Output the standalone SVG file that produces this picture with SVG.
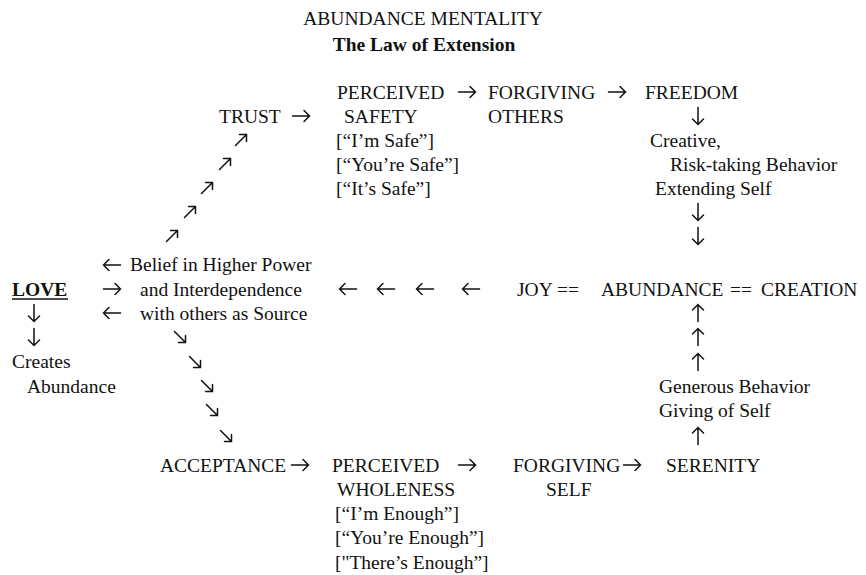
<svg xmlns="http://www.w3.org/2000/svg" width="866" height="575" viewBox="0 0 866 575">
<style>
text{font-family:"Liberation Serif","Times New Roman",serif;font-size:19.5px;fill:#111}
.b{font-weight:bold}
.c{text-anchor:middle}
.ar{fill:none;stroke:#111;stroke-width:1.5;stroke-linecap:round}
</style>
<defs>
<path id="ar" class="ar" d="M-8.5,0 H8.5 M3,-5.5 L8.5,0 L3,5.5"/>
<path id="dg" class="ar" d="M-5.5,5.5 L5.5,-5.5 M-1.5,-5.5 H5.5 V1.5"/>
</defs>
<rect width="866" height="575" fill="#fff"/>
<g id="title">
<text x="423" y="25" class="c">ABUNDANCE MENTALITY</text>
<text x="424" y="51" class="c b">The Law of Extension</text>
</g>
<g id="love">
<text x="12" y="296" class="b">LOVE</text>
<line x1="12" y1="299" x2="68" y2="299" stroke="#111" stroke-width="1.5"/>
</g>
<g id="creates"><text x="12" y="368">Creates</text><text x="27" y="393">Abundance</text></g>
<g id="belief"><text x="130" y="271">Belief in Higher Power</text><text x="140" y="296">and Interdependence</text><text x="140" y="320">with others as Source</text></g>
<g id="trust"><text x="219" y="123">TRUST</text></g>
<g id="safety"><text x="337" y="99">PERCEIVED</text><text x="344" y="123">SAFETY</text><text x="336" y="147">[“I’m Safe”]</text><text x="336" y="171">[“You’re Safe”]</text><text x="336" y="195">[“It’s Safe”]</text></g>
<g id="forgothers"><text x="488" y="99">FORGIVING</text><text x="488" y="123">OTHERS</text></g>
<g id="freedom"><text x="645" y="99">FREEDOM</text></g>
<g id="creative"><text x="650" y="147">Creative,</text><text x="670" y="171">Risk-taking Behavior</text><text x="655" y="195">Extending Self</text></g>
<g id="joy"><text x="517" y="296">JOY</text><text x="557" y="296">==</text><text x="601" y="296">ABUNDANCE</text><text x="730" y="296">==</text><text x="761" y="296">CREATION</text></g>
<g id="generous"><text x="659" y="393">Generous Behavior</text><text x="659" y="417">Giving of Self</text></g>
<g id="acceptance"><text x="160" y="472">ACCEPTANCE</text></g>
<g id="wholeness"><text x="332" y="472">PERCEIVED</text><text x="337" y="496">WHOLENESS</text><text x="335" y="520">[“I’m Enough”]</text><text x="335" y="544">[“You’re Enough”]</text><text x="335" y="569">["There’s Enough”]</text></g>
<g id="forgself"><text x="513" y="472">FORGIVING</text><text x="546" y="496">SELF</text></g>
<g id="serenity"><text x="666" y="472">SERENITY</text></g>
<g id="connectors">
<use href="#ar" transform="translate(467,92)"/>
<use href="#ar" transform="translate(617,92)"/>
<use href="#ar" transform="translate(301,116)"/>
<use href="#ar" transform="translate(698,116) rotate(90)"/>
<use href="#ar" transform="translate(698,212) rotate(90)"/>
<use href="#ar" transform="translate(698,236) rotate(90)"/>
<use href="#dg" transform="translate(241,140)"/>
<use href="#dg" transform="translate(225,164)"/>
<use href="#dg" transform="translate(207,188)"/>
<use href="#dg" transform="translate(190,212)"/>
<use href="#dg" transform="translate(172,236)"/>
<use href="#ar" transform="translate(112,265) rotate(180)"/>
<use href="#ar" transform="translate(112,289)"/>
<use href="#ar" transform="translate(112,313) rotate(180)"/>
<use href="#ar" transform="translate(34,313) rotate(90)"/>
<use href="#ar" transform="translate(34,337) rotate(90)"/>
<use href="#ar" transform="translate(348,289) rotate(180)"/>
<use href="#ar" transform="translate(386,289) rotate(180)"/>
<use href="#ar" transform="translate(425,289) rotate(180)"/>
<use href="#ar" transform="translate(471,289) rotate(180)"/>
<use href="#dg" transform="translate(180,337) rotate(90)"/>
<use href="#dg" transform="translate(195,362) rotate(90)"/>
<use href="#dg" transform="translate(207,386) rotate(90)"/>
<use href="#dg" transform="translate(212,410) rotate(90)"/>
<use href="#dg" transform="translate(226,436) rotate(90)"/>
<use href="#ar" transform="translate(698,313) rotate(-90)"/>
<use href="#ar" transform="translate(698,337) rotate(-90)"/>
<use href="#ar" transform="translate(698,362) rotate(-90)"/>
<use href="#ar" transform="translate(698,436) rotate(-90)"/>
<use href="#ar" transform="translate(300,465)"/>
<use href="#ar" transform="translate(467,465)"/>
<use href="#ar" transform="translate(632,465)"/>
</g>
</svg>
